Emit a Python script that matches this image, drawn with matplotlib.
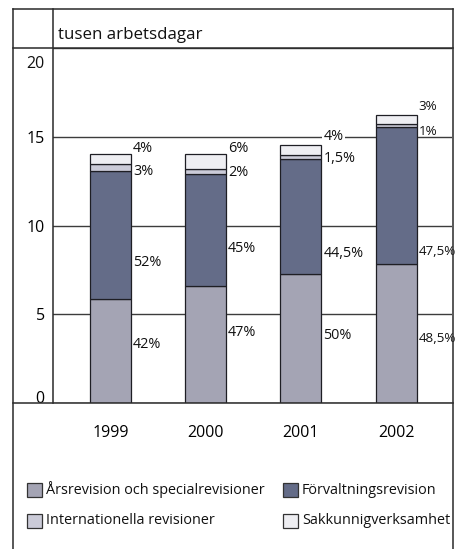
import matplotlib
matplotlib.use("Agg")
import matplotlib.pyplot as plt
from matplotlib.patches import Rectangle
from matplotlib.lines import Line2D
import numpy as np

plt.rcParams["font.family"] = ["Open Sans", "DejaVu Sans"]

# --- data: tusen arbetsdagar per år och andel per verksamhet (%) ---
years = ["1999", "2000", "2001", "2002"]
totals = [13.9, 14.03, 14.55, 16.2]
share_ars = [42, 47, 50, 48.5]
share_forv = [52, 45, 44.5, 47.5]
share_int = [3, 2, 1.5, 1]
share_sak = [4, 6, 4, 3]

series_names = ["Årsrevision och specialrevisioner", "Förvaltningsrevision",
                "Internationella revisioner", "Sakkunnigverksamhet"]
series_colors = ["#a4a4b4", "#646c88", "#cbcbd8", "#eeeef2"]

# y-position (i tusental) for each percentage label, per year
label_y = [
    [3.27, 7.94, 13.07, 14.31],
    [4.00, 8.68, 12.96, 14.31],
    [3.83, 8.45, 13.75, 15.04],
    [3.66, 8.56, 15.27, 16.68],
]

W, H = 456, 549
fig = plt.figure(figsize=(W / 100, H / 100), dpi=100)


def fx(x):
    return x / W


def fy(y):
    return 1 - y / H


ax = fig.add_axes([fx(53), fy(403), fx(452) - fx(53), fy(48) - fy(403)])

x = np.arange(len(years))
shares = [share_ars, share_forv, share_int, share_sak]
bottom = np.zeros(len(years))
for name, share, col in zip(series_names, shares, series_colors):
    seg = np.array(totals) * np.array(share) / 100
    ax.bar(x, seg, bottom=bottom, width=0.43, color=col,
           edgecolor="#1e1e24", linewidth=0.9, zorder=3, label=name)
    bottom += seg

# percentage labels to the right of each bar
for i in range(len(years)):
    # last column sits against the right frame, so a touch smaller
    fs = 9.6 if i == len(years) - 1 else 10.4
    for j, share in enumerate(shares):
        txt = f"{share[i]:g}".replace(".", ",") + "%"
        kw = {}
        if i == 2 and j == 3:
            kw["bbox"] = dict(facecolor="white", edgecolor="none", pad=1)
        ax.annotate(txt, (x[i] + 0.215, label_y[i][j]), xytext=(1.4, 0),
                    textcoords="offset points", ha="left", va="center",
                    fontsize=fs, color="#111111", zorder=5,
                    annotation_clip=False, **kw)

ax.set_xlim(-0.604, 3.587)
ax.set_ylim(0, 20)
ax.set_yticks([0, 5, 10, 15, 20])
ax.set_yticklabels(["0", "5", "10", "15", ""], fontsize=11.5)
ax.set_xticks(x)
ax.set_xticklabels(years, fontsize=11.5)
ax.tick_params(axis="y", length=0, pad=6)
ax.tick_params(axis="x", length=0, pad=16)
ax.get_yticklabels()[0].set_va("baseline")
# "20" sits just under the header line
ax.annotate("20", (0, 20), xycoords=("axes fraction", "data"),
            xytext=(-6, -5.5), textcoords="offset points",
            ha="right", va="top", fontsize=11.5, color="#111111")

ax.yaxis.grid(True, color="#3c3c3c", linewidth=1.0)
ax.set_axisbelow(True)
for s in ax.spines.values():
    s.set_visible(False)

# frame and header
frame_kw = dict(color="#2a2a2a", linewidth=1.1, transform=fig.transFigure)
fig.add_artist(Line2D([fx(13), fx(453)], [fy(9), fy(9)], **frame_kw))
fig.add_artist(Line2D([fx(13), fx(13)], [fy(9), fy(549)], **frame_kw))
fig.add_artist(Line2D([fx(453), fx(453)], [fy(9), fy(549)], **frame_kw))
fig.add_artist(Line2D([fx(53), fx(53)], [fy(9), fy(403)], **frame_kw))
fig.add_artist(Line2D([fx(13), fx(453)], [fy(48), fy(48)], **frame_kw))
fig.add_artist(Line2D([fx(13), fx(453)], [fy(403), fy(403)], **frame_kw))
fig.text(fx(58), fy(35), "tusen arbetsdagar", fontsize=12.2, va="center",
         ha="left", color="#111111")

# legend, two columns
leg_pos = [(27, 490), (283, 490), (27, 521), (283, 521)]
for (lx, ly), name, col in zip(leg_pos, series_names, series_colors):
    fig.add_artist(Rectangle((fx(lx), fy(ly + 7)), 15 / W, 14 / H,
                             facecolor=col, edgecolor="#333333",
                             linewidth=0.9, transform=fig.transFigure))
    fig.text(fx(lx + 19), fy(ly), name, fontsize=10.4, va="center",
             ha="left", color="#111111")

fig.savefig("out.png", dpi=100)
